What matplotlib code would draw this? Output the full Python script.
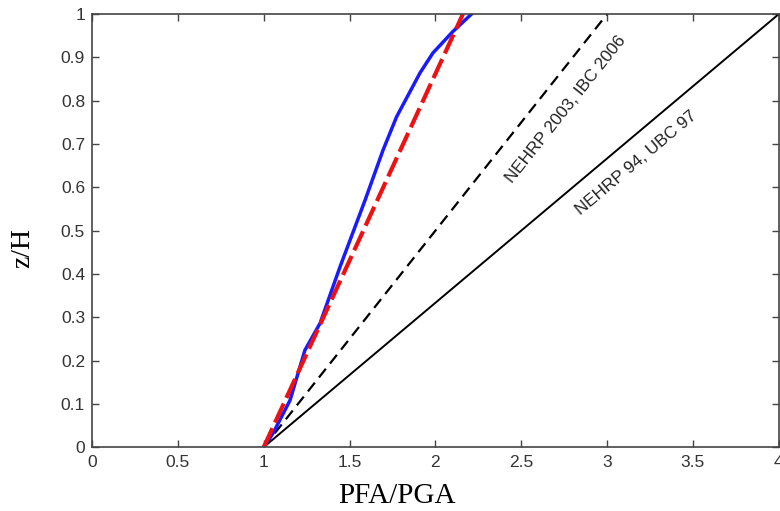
import matplotlib
matplotlib.use('Agg')
import matplotlib.pyplot as plt

# blue curve
blue_x = [1.0, 1.054, 1.153, 1.24, 1.328, 1.444, 1.59, 1.695, 1.774, 1.91, 1.985, 2.10, 2.21]
blue_y = [0.0, 0.032, 0.108, 0.224, 0.286, 0.416, 0.57, 0.686, 0.763, 0.864, 0.91, 0.959, 1.0]

# straight lines
red_x = [1.0, 2.16]
red_y = [0.0, 1.0]
ibc_x = [1.0, 3.0]
ibc_y = [0.0, 1.0]
ubc_x = [1.0, 4.0]
ubc_y = [0.0, 1.0]

x_ticks = [0, 0.5, 1, 1.5, 2, 2.5, 3, 3.5, 4]
x_tick_labels = ['0', '0.5', '1', '1.5', '2', '2.5', '3', '3.5', '4']
y_ticks = [0, 0.1, 0.2, 0.3, 0.4, 0.5, 0.6, 0.7, 0.8, 0.9, 1]
y_tick_labels = ['0', '0.1', '0.2', '0.3', '0.4', '0.5', '0.6', '0.7', '0.8', '0.9', '1']

fig = plt.figure(figsize=(7.8, 5.11), dpi=100)
ax = fig.add_axes([0.118, 0.125, 0.8805, 0.8475])

ax.plot(ubc_x, ubc_y, color='black', lw=1.4)
ax.plot(ibc_x, ibc_y, color='black', lw=1.6, ls=(0, (5, 3)))
ax.plot(blue_x, blue_y, color='#1a1aff', lw=2.5)
ax.plot(red_x, red_y, color='#ee1111', lw=3, ls=(0, (5, 1.5)))

ax.text(2.76, 0.78, 'NEHRP 2003, IBC 2006', rotation=51.5, ha='center', va='center',
        fontsize=12.3, family='Liberation Sans', color='#222222')
ax.text(3.17, 0.655, 'NEHRP 94, UBC 97', rotation=40, ha='center', va='center',
        fontsize=12.3, family='Liberation Sans', color='#222222')

ax.set_xlim(0, 4)
ax.set_ylim(0, 1)
ax.set_xticks(x_ticks)
ax.set_xticklabels(x_tick_labels, family='Liberation Sans', fontsize=12.5, color='#333333')
ax.set_yticks(y_ticks)
ax.set_yticklabels(y_tick_labels, family='Liberation Sans', fontsize=12.5, color='#333333')
ax.tick_params(direction='in', top=True, right=True, length=5, width=1, color='#444444')
ax.tick_params(axis='x', pad=6)
ax.tick_params(axis='y', pad=5)
for s in ax.spines.values():
    s.set_color('#444444')
    s.set_linewidth(1.2)

ax.set_xlabel('PFA/PGA', family='Liberation Serif', fontsize=21)
ax.set_ylabel('z/H', family='Liberation Serif', fontsize=20)
ax.xaxis.set_label_coords(0.444, -0.082)
ax.yaxis.set_label_coords(-0.082, 0.46)

fig.savefig('out.png', dpi=100)
plt.close()
